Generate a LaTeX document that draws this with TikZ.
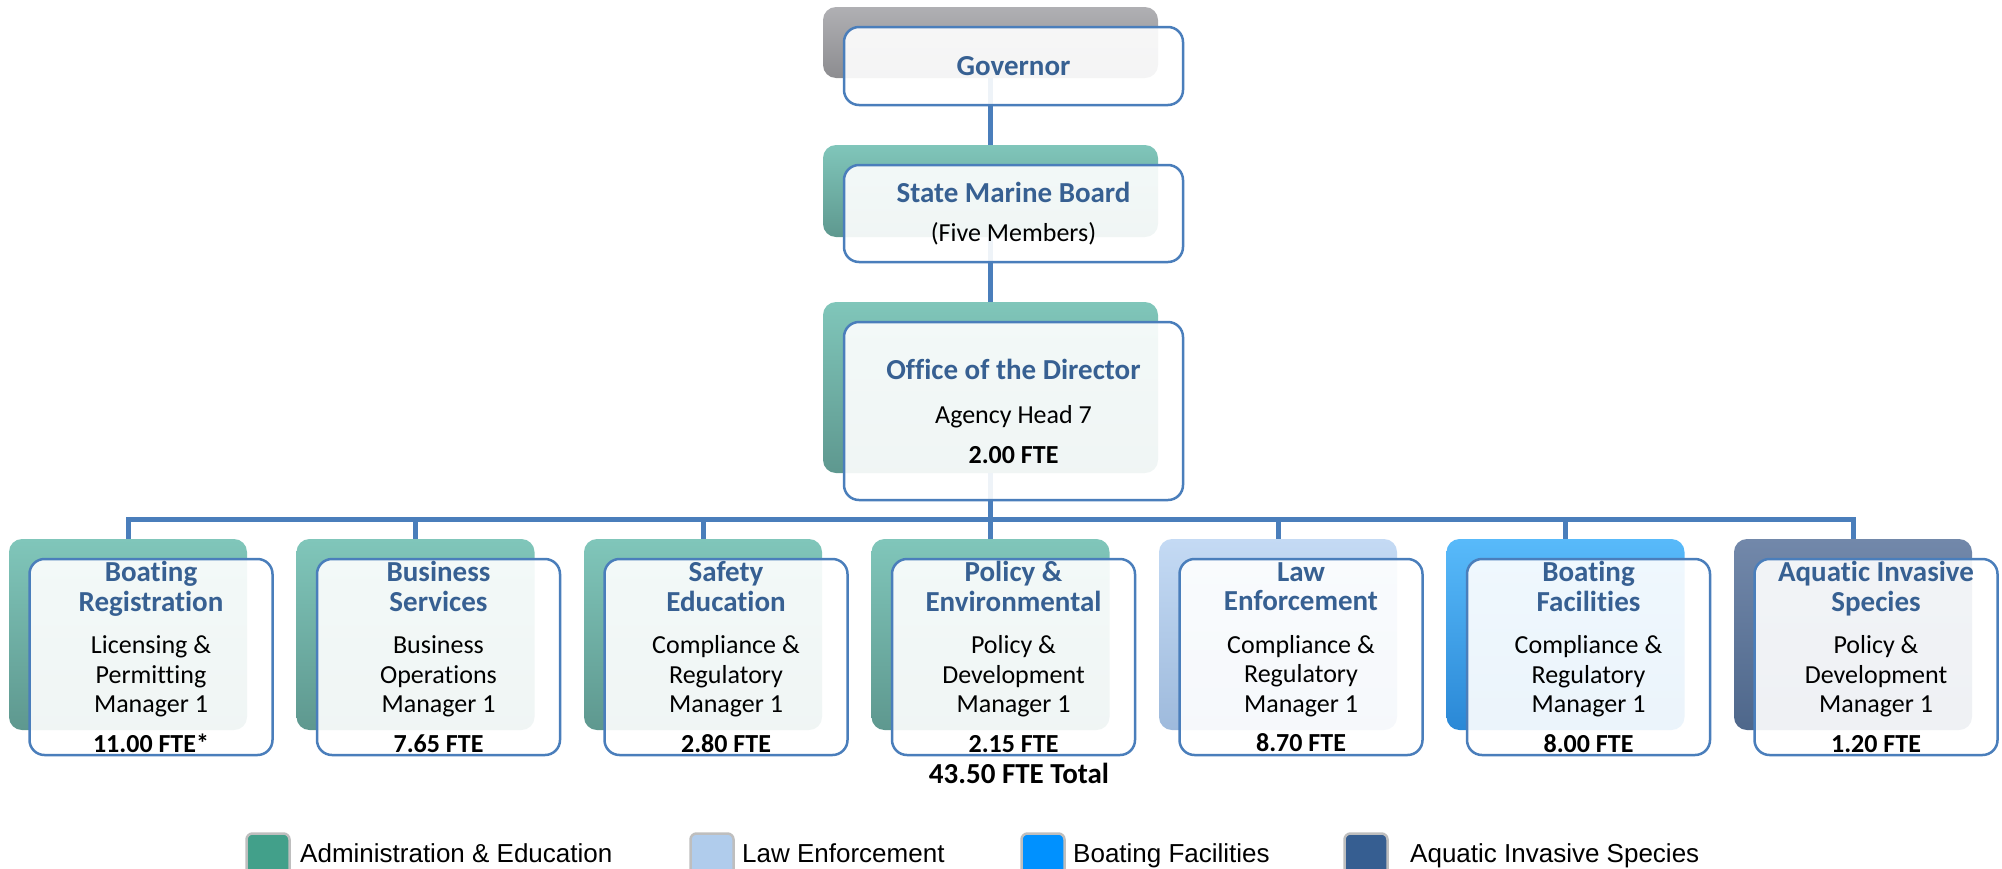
\documentclass[tikz,border=0pt]{standalone}
\usepackage{fontspec}
\setmainfont{Carlito}[Ligatures=NoCommon]
\newfontfamily\legendfont{Liberation Sans}
\definecolor{linkblue}{RGB}{74,126,187}
\definecolor{ttlblue}{RGB}{55,96,146}
\definecolor{grayT}{RGB}{176,176,179}
\definecolor{grayB}{RGB}{140,140,144}
\definecolor{adminT}{RGB}{128,198,186}
\definecolor{adminB}{RGB}{94,152,143}
\definecolor{lawT}{RGB}{196,218,244}
\definecolor{lawB}{RGB}{158,186,220}
\definecolor{boatT}{RGB}{88,186,250}
\definecolor{boatB}{RGB}{42,136,214}
\definecolor{aisT}{RGB}{114,136,170}
\definecolor{aisB}{RGB}{78,103,139}
\definecolor{adminK}{RGB}{66,160,138}
\definecolor{lawK}{RGB}{176,204,236}
\definecolor{boatK}{RGB}{0,145,255}
\definecolor{aisK}{RGB}{54,94,145}
\pgfdeclarelayer{bg}
\pgfsetlayers{bg,main}
\newcommand\hdfont{\fontsize{29}{30}\selectfont\bfseries\color{ttlblue}}
\newcommand\bdfont{\fontsize{26}{29.5}\selectfont}
\newcommand\ftefont{\fontsize{26}{29.5}\selectfont\bfseries}
\tikzset{
  backbox/.style={rectangle, rounded corners=13pt, inner sep=0pt},
  frontbox/.style={rectangle, rounded corners=15pt, draw=linkblue, line width=2.5pt,
    fill=white, fill opacity=0.91, inner sep=0pt},
  unittext/.style={align=center, font=\bdfont, inner sep=0pt},
  link/.style={draw=linkblue, line width=5pt},
  keybox/.style={rectangle, rounded corners=6pt, draw={rgb,255:red,190;green,190;blue,190},
    line width=2.5pt, minimum width=43pt, minimum height=43pt, inner sep=0pt},
  keytext/.style={font=\legendfont\fontsize{26}{30}\selectfont, inner sep=0pt}
}
\begin{document}
\begin{tikzpicture}[x=1pt, y=-1pt]
\clip (0,0) rectangle (2002,868);
\useasboundingbox (0,0) rectangle (2002,868);
% top of the chart
\node[backbox, top color=grayT, bottom color=grayB, minimum width=335pt, minimum height=71pt] (govb) at (990.5,42.5) {};
\node[frontbox, minimum width=339pt, minimum height=78pt] (gov) at ([shift={(23,23.5)}]govb) {};
\node[unittext] (govt) at (gov) {\hdfont Governor};
\node[backbox, top color=adminT, bottom color=adminB, minimum width=335pt, minimum height=92pt] (smbb) at (990.5,191) {};
\node[frontbox, minimum width=339pt, minimum height=97pt] (smb) at ([shift={(23,22.5)}]smbb) {};
\node[unittext] (smbt) at (smb) {{\hdfont State Marine Board}\\[10pt](Five Members)};
\node[backbox, top color=adminT, bottom color=adminB, minimum width=335pt, minimum height=171pt] (dirb) at (990.5,387.5) {};
\node[frontbox, minimum width=339pt, minimum height=178pt] (dir) at ([shift={(23,23.5)}]dirb) {};
\node[unittext] (dirt) at (dir) {{\hdfont Office of the Director}\\[15pt]Agency Head 7\\[10pt]{\ftefont 2.00 FTE}};
\coordinate (bus) at (990.5,519);
% units
\foreach \ta/\tb/\ja/\jb/\jc/\f/\c [count=\i] in {
  Boating/Registration/Licensing \&/Permitting/Manager 1/11.00 FTE*/admin,
  Business/Services/Business/Operations/Manager 1/7.65 FTE/admin,
  Safety/Education/Compliance \&/Regulatory/Manager 1/2.80 FTE/admin,
  Policy \&/Environmental/Policy \&/Development/Manager 1/2.15 FTE/admin,
  Law/Enforcement/Compliance \&/Regulatory/Manager 1/8.70 FTE/law,
  Boating/Facilities/Compliance \&/Regulatory/Manager 1/8.00 FTE/boat,
  Aquatic Invasive/Species/Policy \&/Development/Manager 1/1.20 FTE/ais}{
  \node[backbox, top color=\c T, bottom color=\c B, minimum width=238pt, minimum height=191pt]
    (ub\i) at ({128+287.5*(\i-1)},634.5) {};
  \node[frontbox, minimum width=243pt, minimum height=196pt] (u\i) at ([shift={(23,22.5)}]ub\i) {};
  \node[unittext] (ut\i) at (u\i) {{\hdfont\ta}\\{\hdfont\tb}\\[13pt]\ja\\\jb\\\jc\\[10pt]{\ftefont\f}};
}
\node[font=\fontsize{29}{30}\selectfont\bfseries, inner sep=0pt] (total) at (1019,773) {43.50 FTE Total};
% connectors behind the boxes
\begin{pgfonlayer}{bg}
\draw[link] (govb) -- (smbb);
\draw[link] (smbb) -- (dirb);
\draw[link] (dirb) -- (bus);
\foreach \i in {1,...,7}
  \draw[link] (bus) -| (ub\i);
\end{pgfonlayer}
% legend
\foreach \k/\x/\tx/\lab in {admin/246/300/Administration \& Education, law/690/742/Law Enforcement,
  boat/1021/1073/Boating Facilities, ais/1344/1410/Aquatic Invasive Species}{
  \node[keybox, fill=\k K] (k\k) at (\x+22,855) {};
  \node[keytext, anchor=base west] (l\k) at (\tx,862) {\lab};
}
\end{tikzpicture}
\end{document}
